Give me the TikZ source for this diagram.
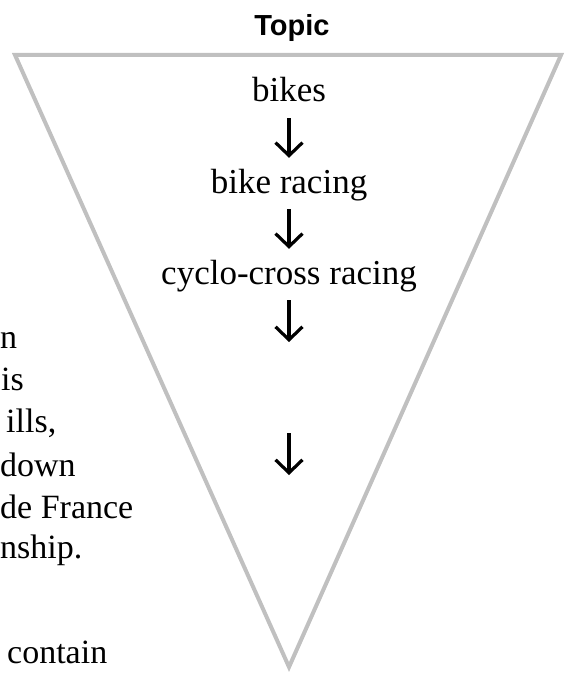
\documentclass[tikz,border=0pt]{standalone}
\usepackage{fontspec}
\setmainfont{Liberation Serif}
\newfontfamily\topicfont{Liberation Sans}
\usetikzlibrary{arrows.meta}
\definecolor{trigray}{RGB}{192,192,192}
\tikzset{
  item/.style={font=\fontsize{35bp}{42bp}\selectfont, inner sep=0pt, anchor=base, text height=24bp, text depth=8bp},
  side/.style={font=\fontsize{34bp}{42bp}\selectfont, inner sep=0pt, anchor=base west},
  flow/.style={line width=3.2bp, -{Straight Barb[length=13bp,width=27bp]}, shorten <=8bp},
  funnel/.style={draw=trigray, line width=4bp, line join=miter},
  title/.style={font=\topicfont\bfseries\fontsize{29bp}{34bp}\selectfont, inner sep=0pt, anchor=base}
}
\begin{document}
\begin{tikzpicture}[x=1bp,y=-1bp]
\useasboundingbox (0,0) rectangle (566,674);
% funnel
\coordinate (tl) at (15,55);
\coordinate (tr) at (561,55);
\coordinate (apex) at (289,667);
\draw[funnel] (tl) -- (tr) -- (apex) -- cycle;
% title
\node[title] (topic) at (292,36) {Topic};
% items
\node[item] (bikes) at (289,102) {bikes};
\node[item] (bikeracing) at (289,193) {bike racing};
\node[item] (cyclo) at (289,284) {cyclo-cross racing};
\coordinate (gap1) at (289,342);
\coordinate (gap2) at (289,433);
\coordinate (gap3) at (289,475);
\draw[flow, shorten >=11bp] (bikes.south) -- (bikeracing.north);
\draw[flow, shorten >=11bp] (bikeracing.south) -- (cyclo.north);
\draw[flow] (cyclo.south) -- (gap1);
\draw[flow, shorten <=0bp] (gap2) -- (gap3);
% side text fragments
\node[side] (s1) at (0,348) {n};
\node[side] (s2) at (1,390) {is};
\node[side] (s3) at (6,432) {ills,};
\node[side] (s4) at (0,476) {down};
\node[side] (s5) at (0,518) {de France};
\node[side] (s6) at (0,558) {nship.};
\node[side] (s7) at (7,663) {contain};
\end{tikzpicture}
\end{document}
